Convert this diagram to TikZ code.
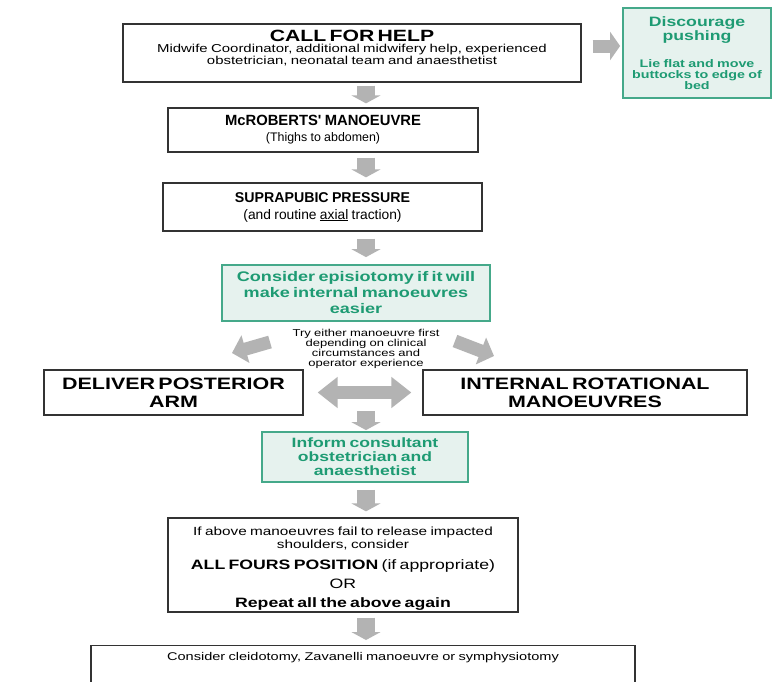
\documentclass[tikz,border=0pt]{standalone}
\usepackage{fontspec}
\setmainfont[FakeStretch=1.3]{Liberation Sans}
\newfontfamily\nrmfam{Liberation Sans}
\usetikzlibrary{arrows.meta,calc}
\pgfdeclarelayer{background}
\pgfsetlayers{background,main}
\definecolor{grn}{HTML}{1E9B73}
\definecolor{grnline}{HTML}{45A98A}
\definecolor{grnfill}{HTML}{E6F2EE}
\definecolor{loopc}{HTML}{B7D5CB}
\definecolor{arr}{HTML}{B3B3B3}
\newcommand\fsz[2]{\fontsize{#1}{#2}\selectfont}
\begin{document}
\begin{tikzpicture}[x=1pt,y=-1pt,
  box/.style={draw=black!80, line width=1.3pt, fill=white, inner sep=0pt, align=center},
  gbox/.style={draw=grnline, line width=1.8pt, fill=grnfill, text=grn, inner sep=0pt, align=center, font=\bfseries},
  downarr/.style={draw=arr, line width=18pt, -{Triangle[length=8pt,width=29pt]}},
  fatarr/.style={draw=arr, line width=13pt, -{Triangle[length=14pt,width=28pt]}},
  dblarr/.style={draw=arr, line width=13pt, {Triangle[length=20pt,width=30pt]}-{Triangle[length=20pt,width=30pt]}},
]
\clip (0,0) rectangle (772,681);
\fill[white] (0,0) rectangle (772,681);

% nodes
\node[box, minimum width=458pt, minimum height=58pt, text width=450pt] (call) at (352,53)
  {{\fsz{16.3}{17}\bfseries CALL FOR HELP\par}\vspace{-1pt}
   {\fsz{11.5}{12}Midwife Coordinator, additional midwifery help, experienced\par
   obstetrician, neonatal team and anaesthetist\par\rule{0pt}{6pt}\par}};
\node[gbox, minimum width=148pt, minimum height=90pt, text width=146pt] (disc) at (697,53)
  {{\fsz{13.6}{14}Discourage\par pushing\par}\vspace{16pt}
   {\fsz{11}{11}Lie flat and move\par buttocks to edge of\par bed\par}};
\node[box, minimum width=310pt, minimum height=44pt, text width=300pt] (mcr) at (323,130)
  {{\nrmfam\fsz{14.8}{15}\bfseries McROBERTS' MANOEUVRE\par}
   {\nrmfam\fsz{12.4}{16}(Thighs to abdomen)\par}};
\node[box, minimum width=319pt, minimum height=48pt, text width=310pt] (sup) at (322.5,207)
  {{\nrmfam\fsz{14.2}{15}\bfseries SUPRAPUBIC PRESSURE\par}
   {\nrmfam\fsz{13.8}{17}(and routine \underline{axial} traction)\par}};
\node[gbox, minimum width=268pt, minimum height=56pt, text width=264pt] (epi) at (356,293)
  {\fsz{13.9}{16}Consider episiotomy if it will\par make internal manoeuvres\par easier\par};
\node[inner sep=0pt, align=center, text width=200pt] (try) at (366,349)
  {\fsz{10}{10}Try either manoeuvre first\par depending on clinical\par circumstances and\par operator experience\par};
\node[box, minimum width=259pt, minimum height=45pt, text width=255pt] (dpa) at (173.5,392.5)
  {\fsz{16.5}{18}\bfseries DELIVER POSTERIOR\par ARM\par\vspace{2pt}};
\node[box, minimum width=324pt, minimum height=45pt, text width=320pt] (irm) at (585,392.5)
  {\fsz{16.5}{18}\bfseries INTERNAL ROTATIONAL\par MANOEUVRES\par\vspace{2pt}};
\node[gbox, minimum width=206pt, minimum height=50pt, text width=204pt] (inf) at (365,457)
  {\fsz{13.5}{14}Inform consultant\par obstetrician and\par anaesthetist\par};
\node[box, minimum width=350pt, minimum height=94pt, text width=346pt] (ifb) at (343,565)
  {{\fsz{11.8}{13}\rule{0pt}{15pt}If above manoeuvres fail to release impacted\par shoulders, consider\par}\vspace{2pt}
   {\fsz{13.6}{19}\textbf{ALL FOURS POSITION} (if appropriate)\par OR\par \textbf{Repeat all the above again}\par}};
\node[box, anchor=north, text width=544pt] (cons) at (363,645)
  {{\fsz{11.2}{12}\rule{0pt}{15pt}Consider cleidotomy, Zavanelli manoeuvre or symphysiotomy\par\rule{0pt}{40pt}\par}};

% loop connector (behind the boxes)
\begin{pgfonlayer}{background}
\coordinate (lb) at ($(ifb.west)+(0,10)$);
\fill[loopc] (8,122) rectangle (30,582);
\draw[loopc, line width=14.5pt, line join=miter, -{Triangle[length=64pt,width=42pt]}]
  (lb) -| (19,130) -- (mcr.west);
\end{pgfonlayer}

% gray arrows
\coordinate (ax) at (366,0);
\draw[downarr, shorten <=3pt, shorten >=4pt] (call.south -| ax) -- (mcr.north -| ax);
\draw[downarr, shorten <=5pt, shorten >=5pt] (mcr.south -| ax) -- (sup.north -| ax);
\draw[downarr, shorten <=7pt, shorten >=7pt] (sup.south -| ax) -- (epi.north -| ax);
\coordinate (dc) at (366,411);
\draw[downarr, shorten >=1pt] (dc) -- (inf.north -| ax);
\draw[downarr, shorten <=7pt, shorten >=6pt] (inf.south -| ax) -- (ifb.north -| ax);
\draw[downarr, shorten <=5pt, shorten >=5pt] (ifb.south -| ax) -- (cons.north -| ax);
\coordinate (hy) at (0,46);
\draw[draw=arr, line width=13pt, -{Triangle[length=10pt,width=28pt]}, shorten <=11pt, shorten >=2pt]
  (call.east |- hy) -- (disc.west |- hy);
\draw[dblarr, shorten <=14pt, shorten >=11pt] (dpa.east) -- (irm.west);
\coordinate (la1) at (270,342); \coordinate (la2) at (232,353);
\coordinate (ra1) at (455,341); \coordinate (ra2) at (494,356);
\draw[fatarr] (la1) -- (la2);
\draw[fatarr] (ra1) -- (ra2);
\end{tikzpicture}
\end{document}
